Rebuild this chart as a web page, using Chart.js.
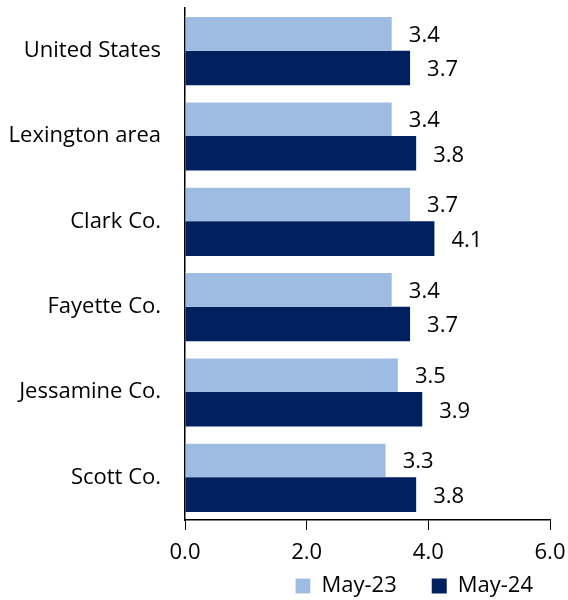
<!DOCTYPE html>
<html>
<head>
<meta charset="utf-8">
<script src="https://cdn.jsdelivr.net/npm/chart.js@4"></script>
<style>
html,body{margin:0;padding:0;background:#fff;}
#wrap{width:568px;height:600px;position:relative;}
</style>
</head>
<body>
<div id="wrap"><canvas id="c"></canvas></div>
<script>
const categories = ["United States", "Lexington area", "Clark Co.", "Fayette Co.", "Jessamine Co.", "Scott Co."];
const may23 = [3.4, 3.4, 3.7, 3.4, 3.5, 3.3];
const may24 = [3.7, 3.8, 4.1, 3.7, 3.9, 3.8];
const seriesNames = ["May-23", "May-24"];
const xTicks = [0, 2, 4, 6];

const FONT = "'Open Sans', sans-serif";

const valueLabels = {
  id: 'valueLabels',
  afterDatasetsDraw(chart) {
    const ctx = chart.ctx;
    ctx.save();
    ctx.font = "22px " + FONT;
    ctx.fillStyle = "#000";
    ctx.textAlign = "left";
    ctx.textBaseline = "middle";
    chart.data.datasets.forEach((ds, i) => {
      const meta = chart.getDatasetMeta(i);
      meta.data.forEach((el, j) => {
        ctx.fillText(ds.data[j].toFixed(1), el.x + 17, el.y + 2);
      });
    });
    ctx.restore();
  }
};

// keep legend compact vertically in layout, but draw it in a taller box
const legendSize = {
  id: 'legendSize',
  beforeLayout(chart) {
    const lg = chart.legend;
    if (lg && !lg._wrapped) {
      const f = lg.fit.bind(lg);
      lg.fit = function () { f(); this.height = 34; };
      const d = lg.draw.bind(lg);
      lg.draw = function () {
        const t = this.top, h = this.height;
        this.top = this.bottom - 60;
        this.height = 60;
        d();
        this.top = t; this.height = h;
      };
      lg._wrapped = true;
    }
  }
};

function build() {
  new Chart(document.getElementById('c'), {
    type: 'bar',
    data: {
      labels: categories,
      datasets: [
        { label: seriesNames[0], data: may23, backgroundColor: '#9DBBE3', borderColor: '#FFFFFF', borderWidth: {top:1,bottom:0,left:0,right:0}, categoryPercentage: 0.81, barPercentage: 1.0 },
        { label: seriesNames[1], data: may24, backgroundColor: '#00205F', borderColor: '#00205F', borderWidth: 0, categoryPercentage: 0.81, barPercentage: 1.0 }
      ]
    },
    options: {
      indexAxis: 'y',
      responsive: true,
      maintainAspectRatio: false,
      animation: false,
      layout: { padding: { top: 8, right: 0, left: 0, bottom: 0 } },
      scales: {
        x: {
          min: 0, max: 6,
          afterBuildTicks(axis) { axis.ticks = xTicks.map(v => ({ value: v })); },
          afterFit(scale) { scale.height = 46; scale.paddingRight = 18; scale.paddingLeft = 0; },
          ticks: { color: '#000', font: { family: FONT, size: 22 }, padding: 10, callback: v => Number(v).toFixed(1), maxRotation: 0 },
          grid: { drawOnChartArea: false, drawTicks: true, tickLength: 10, color: '#000', lineWidth: 1 },
          border: { display: true, color: '#000', width: 1.5 }
        },
        y: {
          afterFit(scale) { scale.width = 185; scale.paddingTop = 0; scale.paddingBottom = 0; },
          ticks: { color: '#000', font: { family: FONT, size: 22 }, padding: 24 },
          grid: { display: false, drawTicks: false },
          border: { display: true, color: '#000', width: 1.5 }
        }
      },
      plugins: {
        legend: {
          position: 'bottom',
          align: 'end',
          labels: { color: '#000', font: { family: FONT, size: 22 }, boxWidth: 15, boxHeight: 15, padding: 35, useBorderRadius: false }
        },
        tooltip: { enabled: false }
      }
    },
    plugins: [valueLabels, legendSize]
  });
}
if (document.fonts && document.fonts.load) {
  document.fonts.load("22px 'Open Sans'").then(build, build);
} else { build(); }
</script>
</body>
</html>
